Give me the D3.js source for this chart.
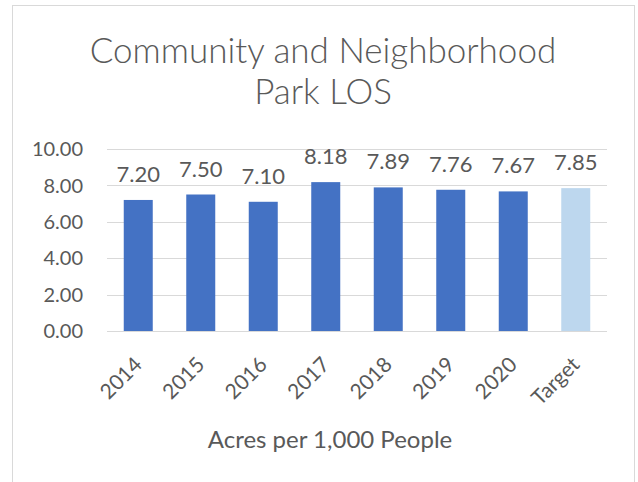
<!DOCTYPE html>
<html>
<head>
<meta charset="utf-8">
<script src="https://cdn.jsdelivr.net/npm/d3@7"></script>
<style>
  body { margin: 0; background: #fff; }
  text { font-family: Lato, "Open Sans", sans-serif; fill: #595959; }
</style>
</head>
<body>
<div id="chart"></div>
<script>
// data
var categories = ["2014", "2015", "2016", "2017", "2018", "2019", "2020", "Target"];
var values = [7.20, 7.50, 7.10, 8.18, 7.89, 7.76, 7.67, 7.85];
var yTicks = [0, 2, 4, 6, 8, 10];
var titleLines = ["Community and Neighborhood", "Park LOS"];
var axisTitle = "Acres per 1,000 People";

var W = 638, H = 482;
var svg = d3.select("#chart").append("svg").attr("width", W).attr("height", H);

// chart area border
svg.append("rect")
  .attr("x", 12.5).attr("y", 5.5)
  .attr("width", 622).attr("height", 520)
  .attr("fill", "#fff")
  .attr("stroke", "#d9d9d9").attr("stroke-width", 1);

// title
svg.append("g").selectAll("text").data(titleLines).enter().append("text")
  .attr("x", 323).attr("y", function(d, i) { return 63 + i * 41; })
  .attr("text-anchor", "middle")
  .style("font-size", "35px")
  .style("font-weight", 300)
  .text(function(d) { return d; });

var x = d3.scaleBand().domain(categories).range([107, 607])
  .paddingInner(0.536).paddingOuter(0.268);
var y = d3.scaleLinear().domain([0, 10]).range([331, 149]);

// gridlines
svg.append("g").selectAll("line").data(yTicks).enter().append("line")
  .attr("x1", 107).attr("x2", 607)
  .attr("y1", function(d) { return Math.round(y(d)) + 0.5; })
  .attr("y2", function(d) { return Math.round(y(d)) + 0.5; })
  .attr("stroke", "#d9d9d9").attr("stroke-width", 1);

// y axis labels
svg.append("g").selectAll("text").data(yTicks).enter().append("text")
  .attr("x", 83).attr("y", function(d) { return y(d); })
  .attr("dy", "0.36em")
  .attr("text-anchor", "end")
  .style("font-size", "20px")
  .text(function(d) { return d3.format(".2f")(d); });

// bars
svg.append("g").selectAll("rect").data(values).enter().append("rect")
  .attr("x", function(d, i) { return x(categories[i]); })
  .attr("y", function(d) { return y(d); })
  .attr("width", x.bandwidth())
  .attr("height", function(d) { return y(0) - y(d); })
  .attr("fill", function(d, i) { return categories[i] == "Target" ? "#bdd7ee" : "#4472c4"; });

// data labels
svg.append("g").selectAll("text").data(values).enter().append("text")
  .attr("x", function(d, i) { return x(categories[i]) + x.bandwidth() / 2; })
  .attr("y", function(d) { return y(d) - 18; })
  .attr("text-anchor", "middle")
  .style("font-size", "22px")
  .text(function(d) { return d3.format(".2f")(d); });

// x labels, rotated
svg.append("g").selectAll("text").data(categories).enter().append("text")
  .attr("transform", function(d) {
    return "translate(" + (x(d) + x.bandwidth() / 2 + 5) + ",366) rotate(-45)";
  })
  .attr("text-anchor", "end")
  .style("font-size", "21px")
  .text(function(d) { return d; });

// axis title
svg.append("text")
  .attr("x", 330).attr("y", 448)
  .attr("text-anchor", "middle")
  .style("font-size", "24px")
  .text(axisTitle);
</script>
</body>
</html>
